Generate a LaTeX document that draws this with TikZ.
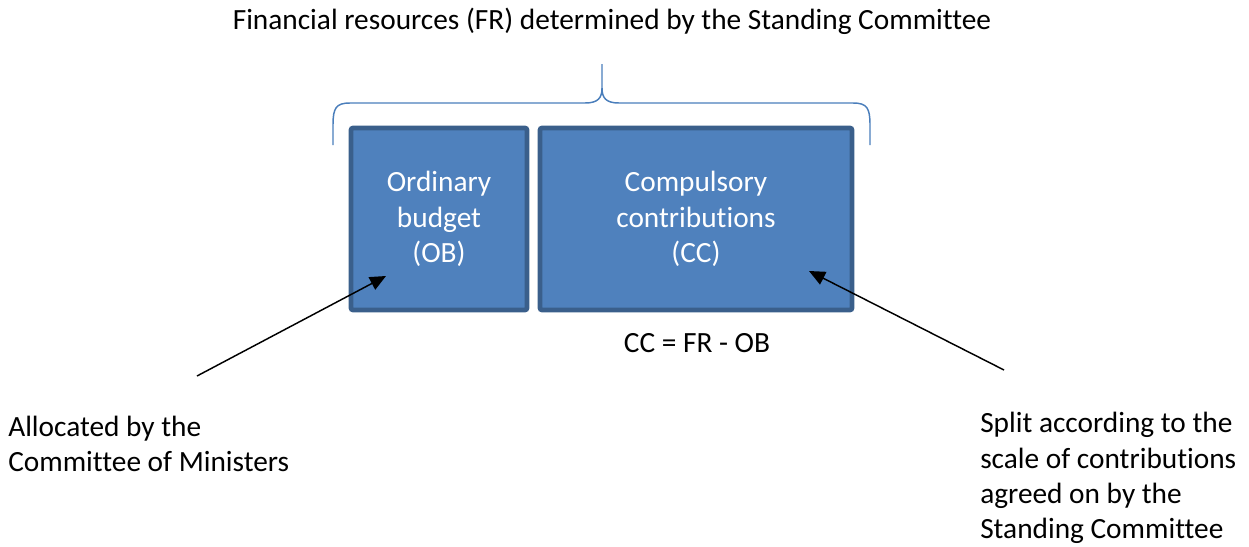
\documentclass[tikz,border=0pt]{standalone}
\usepackage{fontspec}
\setmainfont{Carlito}[Ligatures={NoCommon}]
\usetikzlibrary{arrows.meta}
\definecolor{boxfill}{HTML}{4F81BD}
\definecolor{boxline}{HTML}{3A5F8B}
\definecolor{bracecol}{HTML}{4A7EBB}
\begin{document}
\begin{tikzpicture}[x=0.75pt,y=-0.75pt,
  every node/.style={font=\fontsize{22}{26.4}\selectfont, inner sep=0pt},
  budgetbox/.style={draw=boxline, line width=3.5pt, fill=boxfill, rounded corners=1.5pt,
    minimum height=136.5pt, text=white, align=center},
  plain/.style={align=left, text=black},
  pointer/.style={draw=black, line width=1.1pt, -{Triangle[length=12pt,width=10.5pt]}},
  bracepath/.style={draw=bracecol, line width=1.1pt}]
\useasboundingbox (0,0) rectangle (1249,546);
\node (title) at (612,21) {Financial resources (FR) determined by the Standing Committee};
\node[budgetbox, minimum width=132pt] (ob) at (439,219) {Ordinary\\budget\\(OB)};
\node[budgetbox, minimum width=234pt] (cc) at (696,219) {Compulsory\\contributions\\(CC)};
\node (eq) at (697,343) {CC = FR - OB};
\node[plain, anchor=west] (alloc) at (8,444) {Allocated by the\\Committee of Ministers};
\node[plain, anchor=west] (split) at (980,478) {Split according to the\\scale of contributions\\agreed on by the\\Standing Committee};
% brace
\path[bracepath] (333,145) -- (333,125) .. controls (333,108) and (336,103) .. (350,103)
  -- (585,103) .. controls (598,103) and (602,98) .. (602,88) -- (602,64)
  (602,88) .. controls (602,98) and (606,103) .. (619,103)
  -- (853,103) .. controls (867,103) and (870,108) .. (870,125) -- (870,145);
% arrows
\coordinate (allocstart) at (197,376);
\coordinate (obtip) at (386,276);
\coordinate (splitstart) at (1004,370);
\coordinate (cctip) at (809,271);
\draw[pointer] (allocstart) -- (obtip);
\draw[pointer] (splitstart) -- (cctip);
\end{tikzpicture}
\end{document}
